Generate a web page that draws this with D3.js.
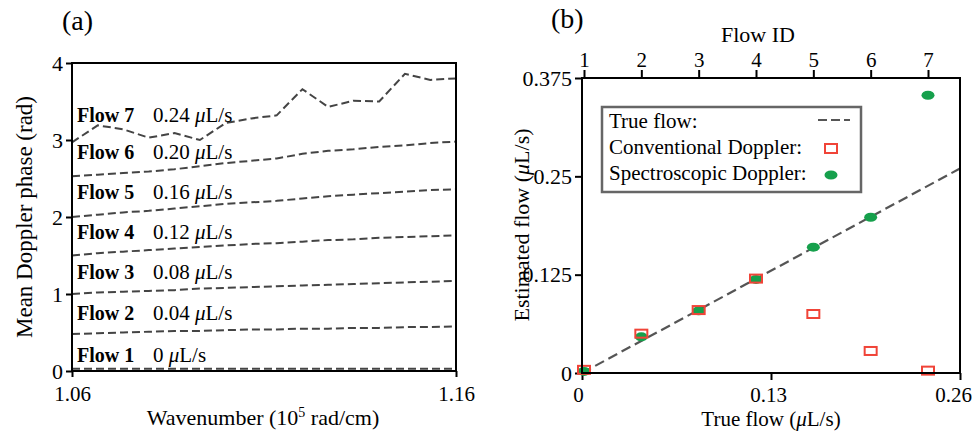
<!DOCTYPE html>
<html>
<head>
<meta charset="utf-8">
<script src="https://cdn.jsdelivr.net/npm/d3@7"></script>
<style>
  body { margin: 0; background: #fff; }
  svg { font-family: "Liberation Serif", "Times New Roman", serif; }
  .frame { fill: none; stroke: #000; stroke-width: 2; }
  .tick line { stroke: #000; stroke-width: 2; }
  .domain { display: none; }
</style>
</head>
<body>
<div id="main"></div>
<script>
// panel (a): wavenumber samples and mean Doppler phase per flow
const wavenumber = [1.0600, 1.0667, 1.0733, 1.0800, 1.0867, 1.0933, 1.1000, 1.1067,
                    1.1133, 1.1200, 1.1267, 1.1333, 1.1400, 1.1467, 1.1533, 1.1600];
const phase1 = [0.03, 0.03, 0.03, 0.03, 0.03, 0.03, 0.03, 0.03, 0.03, 0.03, 0.03, 0.03, 0.03, 0.03, 0.03, 0.03];
const phase2 = [0.48, 0.49, 0.50, 0.51, 0.52, 0.52, 0.53, 0.54, 0.54, 0.55, 0.55, 0.56, 0.56, 0.57, 0.57, 0.58];
const phase3 = [1.00, 1.02, 1.03, 1.04, 1.05, 1.07, 1.08, 1.09, 1.10, 1.11, 1.12, 1.13, 1.14, 1.15, 1.16, 1.17];
const phase4 = [1.50, 1.53, 1.55, 1.57, 1.59, 1.61, 1.63, 1.65, 1.66, 1.68, 1.70, 1.71, 1.73, 1.74, 1.75, 1.76];
const phase5 = [2.00, 2.03, 2.06, 2.08, 2.11, 2.14, 2.17, 2.19, 2.21, 2.24, 2.27, 2.29, 2.31, 2.33, 2.35, 2.36];
const phase6 = [2.53, 2.55, 2.57, 2.59, 2.62, 2.66, 2.70, 2.73, 2.76, 2.82, 2.86, 2.88, 2.91, 2.93, 2.96, 2.98];
const phase7 = [2.97, 3.19, 3.14, 3.03, 3.09, 3.00, 3.22, 3.28, 3.32, 3.66, 3.43, 3.51, 3.50, 3.86, 3.78, 3.80];
const phases = [phase1, phase2, phase3, phase4, phase5, phase6, phase7];
const flowNames = ["Flow 1", "Flow 2", "Flow 3", "Flow 4", "Flow 5", "Flow 6", "Flow 7"];
const flowRates = ["0", "0.04", "0.08", "0.12", "0.16", "0.20", "0.24"];
const labelPhase = [0.12, 0.66, 1.19, 1.72, 2.23, 2.75, 3.24];

// panel (b)
const flowId = [1, 2, 3, 4, 5, 6, 7];
const trueFlow = [0, 0.04, 0.08, 0.12, 0.16, 0.20, 0.24];
const conventional = [0.004, 0.050, 0.080, 0.120, 0.075, 0.028, 0.003];
const spectroscopic = [0.002, 0.046, 0.079, 0.119, 0.160, 0.198, 0.353];
const trueLine = [0, 0.26];
const yTicksB = [0, 0.125, 0.25, 0.375];
const xTicksB = [0, 0.13, 0.26];

const svg = d3.select('#main').append('svg')
    .attr('width', 976).attr('height', 433);

const serif = g => g.selectAll('text').attr('fill', '#000').attr('font-family', 'Liberation Serif');

// ---------- panel (a) ----------
const xA = d3.scaleLinear().domain([1.06, 1.16]).range([72, 456]);
const yA = d3.scaleLinear().domain([0, 4]).range([371, 63]);

const gA = svg.append('g');
gA.append('text').attr('x', 62).attr('y', 30).attr('font-size', 28).text('(a)');

gA.append('g').attr('transform', 'translate(0,371)')
    .call(d3.axisBottom(xA).tickValues([1.06, 1.16]).tickSize(6).tickPadding(9).tickFormat(d3.format('.2f')))
    .call(serif)
    .call(g => g.selectAll('text').attr('font-size', 21));
gA.append('g').attr('transform', 'translate(72,0)')
    .call(d3.axisLeft(yA).tickValues([0, 1, 2, 3, 4]).tickSize(6).tickPadding(3).tickFormat(d3.format('d')))
    .call(serif)
    .call(g => g.selectAll('text').attr('font-size', 22));

const lineA = d3.line().x((d, i) => xA(wavenumber[i])).y(d => yA(d));
gA.selectAll('path.flow').data(phases).enter().append('path')
    .attr('class', 'flow')
    .attr('d', lineA)
    .attr('fill', 'none')
    .attr('stroke', '#444')
    .attr('stroke-width', 2)
    .attr('stroke-dasharray', '8,4');

gA.selectAll('text.fname').data(flowNames).enter().append('text')
    .attr('x', 77).attr('y', (d, i) => yA(labelPhase[i]))
    .attr('font-size', 20).attr('font-weight', 'bold').text(d => d);
const rates = gA.selectAll('text.rate').data(flowRates).enter().append('text')
    .attr('x', 153).attr('y', (d, i) => yA(labelPhase[i]))
    .attr('font-size', 21);
rates.append('tspan').text(d => d + ' ');
rates.append('tspan').attr('font-style', 'italic').text('\u03bc');
rates.append('tspan').text('L/s');

gA.append('rect').attr('class', 'frame').attr('x', 72).attr('y', 63).attr('width', 384).attr('height', 308);

gA.append('text').attr('x', 263).attr('y', 425).attr('text-anchor', 'middle').attr('font-size', 22)
    .html('Wavenumber (10<tspan font-size="14" dy="-8">5</tspan><tspan dy="8"> rad/cm)</tspan>');
gA.append('text').attr('transform', 'translate(32,217) rotate(-90)').attr('text-anchor', 'middle')
    .attr('font-size', 23).text('Mean Doppler phase (rad)');

// ---------- panel (b) ----------
const xB = d3.scaleLinear().domain([0, 0.26]).range([582, 960]);
const yB = d3.scaleLinear().domain([0, 0.375]).range([373, 78]);
const xTop = d3.scaleLinear().domain([1, 7]).range([584, 928]);

const gB = svg.append('g');
gB.append('text').attr('x', 551).attr('y', 28).attr('font-size', 28).text('(b)');

gB.append('g').attr('transform', 'translate(0,373)')
    .call(d3.axisBottom(xB).tickValues(xTicksB).tickSize(7).tickPadding(7).tickFormat(d => d === 0 ? '0' : d3.format('.2f')(d)))
    .call(serif)
    .call(g => g.selectAll('text').attr('font-size', 21).attr('dx', (d, i) => [-4, -3, -7][i]));
gB.append('g').attr('transform', 'translate(582,0)')
    .call(d3.axisLeft(yB).tickValues(yTicksB).tickSize(7).tickPadding(3).tickFormat(d => d === 0 ? '0' : String(d)))
    .call(serif)
    .call(g => g.selectAll('text').attr('font-size', 22));
gB.append('g').attr('transform', 'translate(0,78)')
    .call(d3.axisTop(xTop).tickValues(flowId).tickSize(8).tickPadding(3).tickFormat(d3.format('d')))
    .call(serif)
    .call(g => g.selectAll('text').attr('font-size', 21));

gB.append('path').datum(trueLine)
    .attr('d', d3.line().x(d => xB(d)).y(d => yB(d)))
    .attr('fill', 'none').attr('stroke', '#555').attr('stroke-width', 2.2).attr('stroke-dasharray', '10,5');

gB.selectAll('ellipse.spec').data(spectroscopic).enter().append('ellipse')
    .attr('cx', (d, i) => xTop(flowId[i])).attr('cy', d => yB(d))
    .attr('rx', 6.5).attr('ry', 4.5).attr('fill', '#16a04c');
gB.selectAll('rect.conv').data(conventional).enter().append('rect')
    .attr('x', (d, i) => xTop(flowId[i]) - 6).attr('y', d => yB(d) - 4)
    .attr('width', 12).attr('height', 8)
    .attr('fill', 'none').attr('stroke', '#f04438').attr('stroke-width', 2);

gB.append('rect').attr('class', 'frame').attr('x', 582).attr('y', 78).attr('width', 378).attr('height', 295);

// legend
const leg = gB.append('g');
leg.append('rect').attr('x', 602).attr('y', 107).attr('width', 259).attr('height', 85)
    .attr('fill', '#fff').attr('stroke', '#666').attr('stroke-width', 2.5);
const legText = ['True flow:', 'Conventional Doppler:', 'Spectroscopic Doppler:'];
leg.selectAll('text').data(legText).enter().append('text')
    .attr('x', 609).attr('y', (d, i) => 128 + i * 26).attr('font-size', 21).text(d => d);
leg.append('line').attr('x1', 818).attr('x2', 850).attr('y1', 120).attr('y2', 120)
    .attr('stroke', '#555').attr('stroke-width', 2.2).attr('stroke-dasharray', '9,4');
leg.append('rect').attr('x', 825).attr('y', 144).attr('width', 12).attr('height', 9)
    .attr('fill', 'none').attr('stroke', '#f04438').attr('stroke-width', 2);
leg.append('ellipse').attr('cx', 831).attr('cy', 175).attr('rx', 6.5).attr('ry', 4.5).attr('fill', '#16a04c');

gB.append('text').attr('x', 771).attr('y', 426).attr('text-anchor', 'middle').attr('font-size', 21)
    .html('True flow (<tspan font-style="italic">\u03bc</tspan>L/s)');
gB.append('text').attr('x', 758).attr('y', 42).attr('text-anchor', 'middle').attr('font-size', 22).text('Flow ID');
gB.append('text').attr('transform', 'translate(529,225) rotate(-90)').attr('text-anchor', 'middle')
    .attr('font-size', 22).html('Estimated flow (<tspan font-style="italic">\u03bc</tspan>L/s)');
</script>
</body>
</html>
